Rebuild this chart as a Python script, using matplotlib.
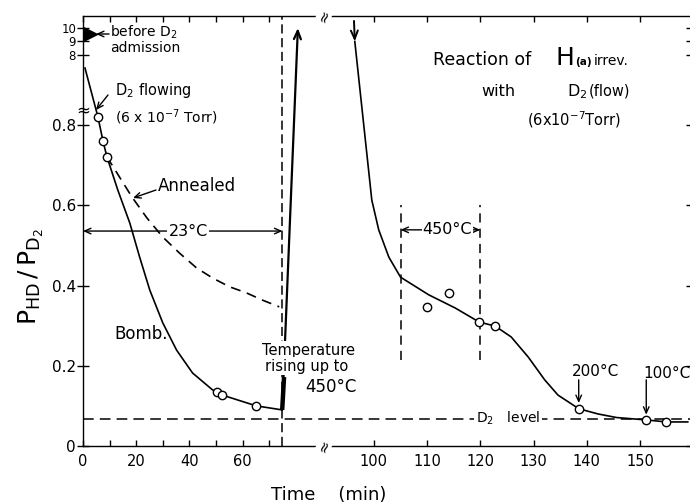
import numpy as np
import matplotlib
matplotlib.use('Agg')
import matplotlib.pyplot as plt

plt.rcParams['font.family'] = ['DejaVu Sans']
plt.rcParams['mathtext.default'] = 'regular'

# ---------------- data ----------------
# "Bomb" sample, solid curve (time in min, P_HD/P_D2)
bomb_x = [0.75, 5.6, 7.5, 9.0, 13.1, 17.6, 21.3, 25.1, 30.0, 35.2, 41.2,
          48.7, 50.2, 52.4, 59.0, 65.2, 74.9]
bomb_y = [7.18, 0.821, 0.761, 0.721, 0.638, 0.556, 0.471, 0.389, 0.307,
          0.239, 0.182, 0.140, 0.135, 0.127, 0.113, 0.100, 0.090]
# "Annealed" sample, dashed curve
anneal_x = [9.0, 18.4, 24.0, 30.0, 36.3, 42.7, 48.7, 55.1, 61.4, 67.4, 73.8]
anneal_y = [0.721, 0.621, 0.569, 0.521, 0.481, 0.444, 0.419, 0.397, 0.382,
            0.364, 0.347]
# curve after heating (right part of the broken time axis)
after_x = [96.4, 99.6, 100.9, 102.8, 105.0, 110.3, 115.3, 119.8, 122.8,
           125.8, 129.0, 132.1, 134.6, 138.5, 142.1, 145.6, 151.2, 155.0, 159.0]
after_y = [8.95, 0.613, 0.539, 0.471, 0.421, 0.377, 0.344, 0.309, 0.299,
           0.272, 0.222, 0.165, 0.127, 0.093, 0.080, 0.071, 0.065, 0.060, 0.060]
# measured points (open circles)
pts_x = [5.6, 7.5, 9.0, 50.2, 52.4, 65.2, 110.0, 114.1, 119.8, 122.8,
         138.5, 151.2, 155.0]
pts_y = [0.821, 0.761, 0.721, 0.135, 0.127, 0.100, 0.347, 0.381, 0.309,
         0.299, 0.093, 0.065, 0.060]
# value before D2 admission
before_x = [2.6]
before_y = [9.52]
# reference levels / times
d2_level = 0.068
t_heat = 75.0
t_450 = [105.0, 120.0]
t_200 = 138.5
t_100 = 151.2
rise_start = (74.9, 0.090)
rise_end = (80.8, 10.0)

xticks_major = [0, 20, 40, 60, 100, 110, 120, 130, 140, 150]
xticks_minor = [10, 30, 50, 70]
yticks = [0, 0.2, 0.4, 0.6, 0.8, 8, 9, 10]
ytick_labels = ['0', '0.2', '0.4', '0.6', '0.8', '8', '9', '10']

# ---------------- broken scales ----------------
B = 90.6  # x break: right part drawn at double scale


def xf(x):
    x = np.asarray(x, float)
    return np.where(x <= B, x, B + 2.0 * (x - B))


def xi(u):
    u = np.asarray(u, float)
    return np.where(u <= B, u, B + (u - B) / 2.0)


A = 401.0
Y1, Y2 = 0.85, 7.0
LA, LB = 139.4, 278.6
H1 = A * Y1
H2 = LA + LB * np.log10(Y2)


def yf(y):
    y = np.asarray(y, float)
    lin = A * y
    mid = H1 + (y - Y1) * (H2 - H1) / (Y2 - Y1)
    lg = LA + LB * np.log10(np.maximum(y, 1e-9))
    return np.where(y <= Y1, lin, np.where(y < Y2, mid, lg))


def yi(h):
    h = np.asarray(h, float)
    lin = h / A
    mid = Y1 + (h - H1) * (Y2 - Y1) / (H2 - H1)
    lg = 10 ** ((h - LA) / LB)
    return np.where(h <= H1, lin, np.where(h < H2, mid, lg))


W, H = 690, 504
fig = plt.figure(figsize=(W / 100, H / 100), dpi=100)
ax = fig.add_axes([83 / W, (H - 446) / H, (692 - 83) / W, (446 - 16) / H])
ax.set_xscale('function', functions=(xf, xi))
ax.set_yscale('function', functions=(yf, yi))
ax.set_xlim(0, 159.8)
ax.set_ylim(0, 11.04)

for s in ax.spines.values():
    s.set_linewidth(1.0)

ax.set_xticks(xticks_major)
ax.set_xticklabels([str(v) for v in xticks_major])
ax.set_xticks(xticks_minor, minor=True)
ax.tick_params(axis='x', which='both', direction='in', top=True, length=4.5,
               width=1.0, labelsize=10.5, pad=6)
ax.set_yticks(yticks)
ax.set_yticklabels(ytick_labels)
ax.yaxis.set_minor_locator(matplotlib.ticker.NullLocator())
ax.tick_params(axis='y', direction='inout', right=True, length=8, width=1.0,
               labelsize=11, pad=1)
for lbl in ax.get_yticklabels()[5:]:
    lbl.set_fontsize(8.5)

LW = 1.2
# curves
ax.plot(bomb_x, bomb_y, color='black', lw=LW, zorder=3)
ax.plot(anneal_x, anneal_y, color='black', lw=LW, ls=(0, (6, 4)), zorder=3)
ax.plot(after_x, after_y, color='black', lw=LW, zorder=3)
ax.plot(pts_x, pts_y, ls='none', marker='o', ms=6, mfc='white', mec='black',
        mew=1.0, zorder=5)
ax.plot(before_x, before_y, ls='none', marker='>', ms=10, color='black',
        zorder=5)

# reference lines
ax.axhline(d2_level, color='black', lw=1.1, ls=(0, (7, 4)), zorder=2)
ax.axvline(t_heat, color='black', lw=1.1, ls=(0, (6, 3)), zorder=2)
ax.vlines(t_450, 0.214, 0.601, color='black', lw=1.1, ls=(0, (6, 4)), zorder=2)

arrow_kw = dict(arrowstyle='->,head_length=0.45,head_width=0.2', lw=1.0,
                color='black', shrinkA=0, shrinkB=0)

# heating line with arrow
ax.annotate('', xy=rise_end, xytext=rise_start,
            arrowprops=dict(arrowstyle='->,head_length=0.6,head_width=0.25',
                            lw=1.6, color='black', shrinkA=0, shrinkB=0))
ax.plot([rise_start[0], 75.6], [rise_start[1], 0.172], color='black', lw=3.2,
        solid_capstyle='butt', zorder=4)
ax.annotate('', xy=(after_x[0], after_y[0]), xytext=(96.25, 10.6),
            arrowprops=dict(arrowstyle='->,head_length=0.6,head_width=0.25',
                            lw=1.4, color='black', shrinkA=0, shrinkB=0))

# temperature range arrows
ax.annotate('', xy=(0, 0.536), xytext=(t_heat, 0.536),
            arrowprops=dict(arrowstyle='<->,head_length=0.45,head_width=0.2',
                            lw=1.0, color='black', shrinkA=0, shrinkB=0))
ax.text(39.5, 0.536, '23°C', ha='center', va='center', fontsize=11.5,
        bbox=dict(fc='white', ec='none', pad=1), zorder=6)
ax.annotate('', xy=(t_450[0], 0.539), xytext=(t_450[1], 0.539),
            arrowprops=dict(arrowstyle='<->,head_length=0.45,head_width=0.2',
                            lw=1.0, color='black', shrinkA=0, shrinkB=0))
ax.text(113.8, 0.539, '450°C', ha='center', va='center', fontsize=11.5,
        bbox=dict(fc='white', ec='none', pad=0.5), zorder=6)

# 200 / 100 C arrows
ax.annotate('', xy=(t_200, 0.107), xytext=(t_200, 0.165), arrowprops=arrow_kw)
ax.annotate('', xy=(t_100, 0.078), xytext=(t_100, 0.165), arrowprops=arrow_kw)

# D2 level label
ax.text(125.2, d2_level, 'D$_2$   level', ha='center', va='center',
        fontsize=10, bbox=dict(fc='white', ec='none', pad=1.5), zorder=6)

# axis break marks
ax.text(0, 0.838, '≈', ha='center', va='center', fontsize=12, zorder=6)
for yy in (0, 1):
    ax.text(B, yy, '≈', transform=ax.get_xaxis_transform(), ha='center',
            va='center', fontsize=11, rotation=70,
            bbox=dict(fc='white', ec='none', pad=0), zorder=6)


def fx(px):
    return px / W


def fy(py):
    return 1 - py / H


def fp(px, py):
    return (px, H - py)


# annotations (figure pixel positions)
fig.text(fx(110), fy(32), 'before D$_2$', ha='left', va='center', fontsize=10)
fig.text(fx(110), fy(48), 'admission', ha='left', va='center', fontsize=10)
ax.annotate('', xy=fp(96, 34), xycoords='figure pixels', xytext=fp(109, 34),
            textcoords='figure pixels', arrowprops=arrow_kw)

fig.text(fx(115), fy(91), 'D$_2$ flowing', ha='left', va='center', fontsize=10.5)
fig.text(fx(115), fy(117), '(6 x 10$^{-7}$ Torr)', ha='left', va='center',
         fontsize=10)
ax.annotate('', xy=fp(96, 110), xycoords='figure pixels', xytext=fp(108, 95),
            textcoords='figure pixels', arrowprops=arrow_kw)

fig.text(fx(158), fy(186), 'Annealed', ha='left', va='center', fontsize=12)
ax.annotate('', xy=fp(133, 198), xycoords='figure pixels', xytext=fp(156, 190),
            textcoords='figure pixels', arrowprops=arrow_kw)

fig.text(fx(141), fy(334), 'Bomb.', ha='center', va='center', fontsize=12)

white = dict(fc='white', ec='none', pad=1)
fig.text(fx(309), fy(350), 'Temperature', ha='center', va='center',
         fontsize=10.5, bbox=white, zorder=6)
fig.text(fx(307), fy(366), 'rising up to', ha='center', va='center',
         fontsize=10.5, bbox=white, zorder=6)
fig.text(fx(331), fy(387), '450°C', ha='center', va='center', fontsize=12)

fig.text(fx(572), fy(371), '200°C', ha='left', va='center', fontsize=11)
fig.text(fx(643), fy(374), '100°C', ha='left', va='center', fontsize=11)

# title block
fig.text(fx(531), fy(65), 'Reaction of', ha='right', va='baseline', fontsize=12.5)
fig.text(fx(555), fy(65), 'H', ha='left', va='baseline', fontsize=18)
fig.text(fx(575), fy(65), '(a)', ha='left', va='baseline', fontsize=7.5,
         weight='bold')
fig.text(fx(594), fy(65), 'irrev.', ha='left', va='baseline', fontsize=10)
fig.text(fx(515), fy(96), 'with', ha='right', va='baseline', fontsize=11.5)
fig.text(fx(567), fy(96), 'D$_2$', ha='left', va='baseline', fontsize=11.5)
fig.text(fx(589), fy(96), '(flow)', ha='left', va='baseline', fontsize=10.5)
fig.text(fx(621), fy(125), '(6x10$^{-7}$Torr)', ha='right', va='baseline',
         fontsize=10.5)

# axis labels
fig.text(fx(31), fy(277), r'$P_{HD}\,/\,P_{D_2}$', rotation=90, ha='center',
         va='center', fontsize=18)
fig.text(fx(329), fy(495), 'Time    (min)', ha='center', va='center',
         fontsize=13)

fig.savefig('out.png', dpi=100)
